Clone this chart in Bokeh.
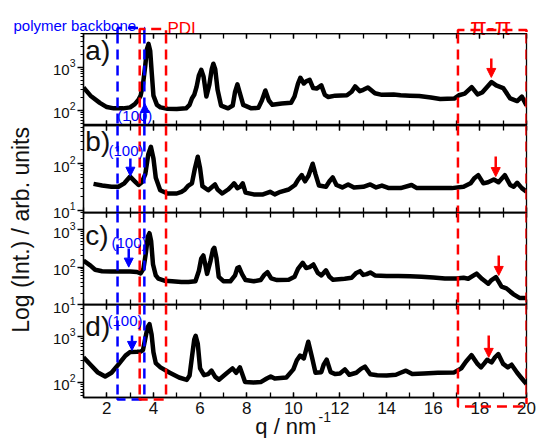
from bokeh.plotting import figure
from bokeh.models import (Range1d, LinearAxis, SingleIntervalTicker, FixedTicker, Span,
                          LogTickFormatter, Arrow, NormalHead, Label, Div)
from bokeh.layouts import column
from bokeh.embed import file_html
from bokeh.resources import INLINE

# ---------------- data ----------------
q_a = [1.0, 1.3, 1.7, 2.0, 2.3, 2.7, 3.0, 3.2, 3.35, 3.45, 3.55, 3.65, 3.72, 3.79, 3.86, 3.93, 4.0,
       4.15, 4.3, 4.6, 5.0, 5.4, 5.55, 5.65, 5.75, 5.85, 5.95, 6.05, 6.15, 6.27, 6.4, 6.5, 6.57,
       6.65, 6.75, 6.9, 7.2, 7.4, 7.5, 7.6, 7.7, 7.85, 8.2, 8.5, 8.65, 8.8, 8.95, 9.1, 9.5, 9.9,
       10.05, 10.2, 10.3, 10.45, 10.55, 10.7, 10.85, 11.0, 11.2, 11.35, 11.5, 11.8, 12.3, 12.5,
       12.65, 12.85, 13.0, 13.2, 13.5, 13.8, 14.3, 14.6, 15.0, 15.4, 15.9, 16.3, 16.9, 17.1,
       17.35, 17.65, 17.9, 18.1, 18.5, 18.7, 19.0, 19.3, 19.6, 19.8, 20.0]
i_a = [340, 220, 150, 120, 112, 112, 118, 140, 175, 220, 400, 1100, 2600, 3450, 2400, 700, 220,
       135, 118, 110, 108, 112, 135, 190, 230, 350, 650, 870, 600, 210, 400, 900, 1200,
       900, 300, 130, 112, 130, 270, 400, 260, 135, 112, 115, 170, 290, 170, 135, 145, 150,
       210, 420, 570, 420, 470, 510, 330, 320, 380, 230, 205, 220, 225, 270,
       360, 280, 300, 340, 250, 230, 235, 225, 220, 215, 200, 185, 188, 225,
       245, 345, 235, 260, 455, 380, 330, 190, 165, 210, 130]

q_b = [1.43, 1.8, 2.2, 2.5, 2.75, 3.0, 3.2, 3.36, 3.5, 3.65, 3.78, 3.89, 4.0, 4.1, 4.29, 4.6,
       5.0, 5.2, 5.35, 5.5, 5.65, 5.78, 5.9, 6.0, 6.1, 6.35, 6.55, 6.64, 6.75, 6.95, 7.2, 7.35,
       7.46, 7.6, 7.72, 7.83, 7.95, 8.3, 8.7, 9.0, 9.2, 9.45, 9.8, 10.07, 10.2, 10.36, 10.5,
       10.65, 10.83, 10.95, 11.1, 11.4, 11.55, 11.69, 11.85, 12.1, 12.35, 12.6, 13.0, 13.3,
       13.55, 13.8, 14.1, 14.6, 15.07, 15.3, 16.0, 16.8, 17.3, 17.6, 17.75, 17.93, 18.15,
       18.35, 18.6, 18.8, 19.07, 19.3, 19.45, 19.6, 19.8, 20.0]
i_b = [37, 34, 32, 32, 38, 53, 42, 35, 40, 60, 160, 230, 130, 50, 27, 23,
       23, 25, 28, 34, 38, 80, 141, 80, 33, 27, 33, 36, 28, 23, 28, 33,
       38, 30, 32, 38, 24, 22, 22, 25, 22, 25, 28, 35, 45, 57, 42,
       55, 100, 60, 34, 32, 42, 51, 35, 31, 36, 31, 32, 36,
       31, 34, 30, 30, 35, 30, 30, 30, 32, 38, 48, 57, 38,
       40, 46, 40, 57, 35, 32, 39, 30, 25]

q_c = [1.0, 1.3, 1.5, 1.8, 2.2, 2.6, 3.0, 3.3, 3.45, 3.57, 3.68, 3.76, 3.83, 3.9, 3.98, 4.1,
       4.21, 4.5, 4.8, 5.2, 5.5, 5.8, 5.95, 6.05, 6.14, 6.22, 6.3, 6.45, 6.55, 6.61, 6.7, 6.8,
       7.0, 7.3, 7.5, 7.6, 7.67, 7.8, 7.95, 8.3, 8.6, 8.75, 8.89, 9.05, 9.3, 9.8, 10.05, 10.2,
       10.4, 10.55, 10.7, 10.86, 11.05, 11.2, 11.4, 11.55, 11.7, 12.2, 12.5, 12.7, 12.86, 13.0,
       13.15, 13.3, 13.5, 14.0, 14.5, 15.0, 15.5, 16.0, 16.5, 17.0, 17.3, 17.5, 17.86, 18.1,
       18.36, 18.5, 18.69, 18.93, 19.14, 19.43, 19.7, 20.0]
i_c = [150, 110, 85, 78, 76, 77, 76, 74, 68, 90, 250, 650, 810, 500, 120, 60,
       49, 43, 42, 40, 40, 42, 80, 170, 205, 120, 66, 150, 290, 330, 180, 55,
       42, 42, 60, 95, 100, 65, 45, 42, 45, 62, 73, 50, 45, 46, 55, 90,
       131, 95, 100, 118, 70, 60, 82, 55, 46, 49, 52, 70, 78, 62,
       65, 72, 60, 58, 58, 57, 55, 53, 50, 50, 52, 49, 67, 48,
       36, 45, 54, 30, 27, 19, 15, 15]

q_d = [1.0, 1.3, 1.6, 1.93, 2.2, 2.5, 2.8, 3.0, 3.3, 3.45, 3.55, 3.65, 3.75, 3.83, 3.92, 4.0,
       4.1, 4.3, 4.7, 5.1, 5.43, 5.55, 5.65, 5.75, 5.81, 5.9, 6.0, 6.17, 6.35, 6.49, 6.65, 6.81,
       7.1, 7.39, 7.55, 7.71, 7.93, 8.3, 8.6, 8.86, 9.03, 9.2, 9.7, 10.0, 10.15, 10.29, 10.45,
       10.64, 10.8, 10.95, 11.2, 11.3, 11.43, 11.6, 11.8, 12.0, 12.21, 12.4, 12.7, 12.9, 13.07,
       13.3, 13.6, 14.0, 14.4, 14.6, 14.83, 15.1, 15.6, 16.2, 16.9, 17.2, 17.4, 17.64, 17.9,
       18.05, 18.2, 18.31, 18.5, 18.65, 18.79, 19.0, 19.2, 19.36, 19.6, 19.8, 20.0]
i_d = [350, 240, 165, 133, 160, 245, 380, 455, 460, 465, 500, 900, 1600, 1850, 1100, 450,
       260, 210, 160, 126, 112, 140, 350, 850, 1030, 700, 200, 142, 150, 178, 130, 113,
       150, 200, 160, 210, 100, 98, 100, 120, 133, 120, 126, 190, 300, 380, 330,
       765, 350, 160, 165, 240, 310, 165, 150, 155, 190, 145, 160, 195, 218,
       148, 142, 140, 145, 160, 178, 150, 155, 160, 163, 200, 280, 390, 250,
       210, 260, 308, 270, 350, 410, 250, 210, 240, 160, 120, 91]

x_tick_labels = ["2", "4", "6", "8", "10", "12", "14", "16", "18", "20"]

# annotation anchors (q positions / intensities)
blue_bracket = (2.46, 3.61)
pdi_bracket = (3.41, 4.54)
pipi_bracket = (17.06, 20.0)
hkl_arrows = {"a": (3.63, 48, 145), "b": (3.01, 130, 54), "c": (2.94, 316, 100), "d": (3.08, 1050, 494)}
pipi_arrows = {"a": (18.49, 1580, 580), "b": (18.68, 143, 53), "c": (18.81, 205, 60), "d": (18.38, 1050, 348)}
hkl_labels = {"a": (2.45, 77), "b": (2.07, 193), "c": (2.2, 457), "d": (2.03, 2240)}
panel_labels = {"a": (1.08, 2420), "b": (1.08, 300), "c": (1.08, 705), "d": (1.08, 1660)}
y_ranges = {"a": (45, 6000), "b": (9, 660), "c": (10, 2900), "d": (46, 5000)}

BLUE = "#0000ff"
RED = "#ff0000"
FONT = "Liberation Sans"
DASH = "10 6"
W = 536
BL, BR = 83, 10          # left / right borders of every panel
HEAD_H, FOOT_H = 40, 41  # strips above panel a and below panel d
HEAD_OVER = 7            # the header strip runs this far under panel a
OVER = 13                # room kept under panels b, c for their lowest tick label


def log_ticks(lo, hi):
    majors, minors = [], []
    for e in range(0, 5):
        for m in range(1, 10):
            v = m * 10 ** e
            if lo <= v <= hi:
                (majors if m == 1 else minors).append(v)
    return majors, minors


def tick_axis(show_labels=False):
    ax = LinearAxis(ticker=SingleIntervalTicker(interval=2, num_minor_ticks=2),
                    major_tick_in=5, major_tick_out=0, minor_tick_in=5, minor_tick_out=0,
                    axis_line_width=1.3, major_tick_line_width=1.3, minor_tick_line_width=1.3,
                    axis_line_color="black", major_tick_line_color="black",
                    minor_tick_line_color="black")
    if show_labels:
        ax.major_label_text_font = FONT
        ax.major_label_text_font_size = "17px"
        ax.major_label_text_color = "#111111"
        ax.major_label_standoff = 4
        ax.major_label_overrides = {2 * (k + 1): t for k, t in enumerate(x_tick_labels)}
    else:
        ax.major_label_text_color = None
        ax.major_label_standoff = 0
    return ax


def make_panel(key, qs, vals, frame_h, bottom, margin_top=0, bottom_labels=False):
    lo, hi = y_ranges[key]
    p = figure(width=W, height=frame_h + bottom, x_range=Range1d(1, 20),
               y_range=Range1d(lo, hi), y_axis_type="log", x_axis_location=None,
               output_backend="svg", toolbar_location=None,
               min_border_left=BL, min_border_right=BR, min_border_top=0,
               min_border_bottom=bottom, margin=(margin_top, 0, 0, 0),
               border_fill_color=None, background_fill_color=None)
    p.grid.visible = False
    p.outline_line_color = "black"
    p.outline_line_width = 1.3
    majors, minors = log_ticks(lo, hi)
    ya = p.yaxis[0]
    ya.ticker = FixedTicker(ticks=majors, minor_ticks=minors)
    ya.formatter = LogTickFormatter()
    ya.major_tick_out = 6
    ya.major_tick_in = 0
    ya.minor_tick_out = 3
    ya.minor_tick_in = 0
    ya.axis_line_width = 1.3
    ya.major_tick_line_width = 1.3
    ya.minor_tick_line_width = 1.0
    ya.major_label_text_font = FONT
    ya.major_label_text_font_size = "15px"
    ya.major_label_text_color = "#111111"
    ya.major_label_standoff = 2
    p.add_layout(tick_axis(False), "above")
    p.add_layout(tick_axis(bottom_labels), "below")

    for lims, col in ((blue_bracket, BLUE), (pdi_bracket, RED), (pipi_bracket, RED)):
        for loc in lims:
            p.add_layout(Span(location=loc, dimension="height", line_color=col,
                              line_width=2.5, line_dash=DASH))

    p.line(qs, vals, line_color="black", line_width=4.5, line_join="round")

    lx, ly = panel_labels[key]
    p.add_layout(Label(x=lx, y=ly, text=key + ")", text_font=FONT, text_font_size="28px",
                       text_baseline="middle", text_color="#111111"))
    hx, hy = hkl_labels[key]
    p.add_layout(Label(x=hx, y=hy, text="(100)", text_font=FONT, text_font_size="15px",
                       text_baseline="middle", text_color=BLUE))
    ax_, ys, ye = hkl_arrows[key]
    p.add_layout(Arrow(end=NormalHead(size=9, fill_color=BLUE, line_color=BLUE),
                       x_start=ax_, y_start=ys, x_end=ax_, y_end=ye,
                       line_color=BLUE, line_width=2.5))
    rx, rys, rye = pipi_arrows[key]
    p.add_layout(Arrow(end=NormalHead(size=9, fill_color=RED, line_color=RED),
                       x_start=rx, y_start=rys, x_end=rx, y_end=rye,
                       line_color=RED, line_width=2.5))
    return p


# strips above / below the panels share the panels' q scale
unit = (W - BL - BR) / 19.0
strip_x = (1 - BL / unit, 20 + BR / unit)


def strip(height, margin_top=0):
    s = figure(width=W, height=height, x_range=Range1d(*strip_x), y_range=Range1d(0, height),
               x_axis_location=None, y_axis_location=None, output_backend="svg",
               toolbar_location=None, min_border_left=0, min_border_right=0,
               min_border_top=0, min_border_bottom=0, margin=(margin_top, 0, 0, 0),
               border_fill_color=None, background_fill_color=None, outline_line_color=None,
               frame_align=False)
    s.grid.visible = False
    return s


header = strip(HEAD_H)
# bracket tops (height above the strip bottom, px); the strip's panel-a edge is at HEAD_OVER
tops = [(blue_bracket, BLUE, 12.5), (pdi_bracket, RED, 11.5), (pipi_bracket, RED, 10.5)]
for (x0, x1), col, h in tops:
    header.line([x0, x0, x1, x1], [HEAD_OVER, h, h, HEAD_OVER], line_color=col, line_width=2.5,
                line_dash=DASH)
header.add_layout(Label(x=strip_x[0] + 13 / unit, y=15.5, text="polymer backbone",
                        text_font=FONT, text_font_size="15px", text_color=BLUE,
                        text_baseline="alphabetic"))
header.add_layout(Label(x=4.6, y=12, text="PDI", text_font=FONT,
                        text_font_size="17px", text_color=RED, text_baseline="alphabetic"))
header.add_layout(Label(x=18.47, y=14, text="π-π", text_font=FONT, text_align="center",
                        text_font_size="24px", text_color=RED, text_baseline="alphabetic"))

pa = make_panel("a", q_a, i_a, 92, 0, margin_top=-HEAD_OVER)
pb = make_panel("b", q_b, i_b, 87, OVER)
pc = make_panel("c", q_c, i_c, 92, OVER, margin_top=-OVER)
pd = make_panel("d", q_d, i_d, 93, FOOT_H, margin_top=-OVER, bottom_labels=True)

footer = strip(FOOT_H, margin_top=-FOOT_H)
bottoms = [(blue_bracket, BLUE, 39), (pdi_bracket, RED, 39), (pipi_bracket, RED, 32)]
for (x0, x1), col, h in bottoms:
    footer.line([x0, x0, x1, x1], [FOOT_H, h, h, FOOT_H], line_color=col, line_width=2.5,
                line_dash=DASH)
footer.add_layout(Label(x=10.99, y=12, text="q / nm", text_font=FONT, text_align="right",
                        text_font_size="22px", text_color="#111111", text_baseline="alphabetic"))
footer.add_layout(Label(x=11.08, y=22, text="-1", text_font=FONT, text_align="left",
                        text_font_size="14px", text_color="#111111", text_baseline="alphabetic"))

ylabel_html = (
    '<div style="position:relative;width:30px;height:0px;">'
    '<div style="position:absolute;left:8px;top:-330px;width:26px;height:219px;'
    'display:flex;align-items:center;justify-content:center;">'
    '<span style="writing-mode:vertical-rl;transform:rotate(180deg);white-space:nowrap;'
    "font-family:'Liberation Sans';font-size:23px;color:#111111;\">"
    'Log (Int.) / arb. units</span></div></div>'
)
div = Div(text=ylabel_html, width=30, height=0, margin=(0, 0, 0, 0),
          styles={"overflow": "visible"})

layout = column(header, pa, pb, pc, pd, footer, div)

open("out.html", "w").write(file_html(layout, INLINE))
